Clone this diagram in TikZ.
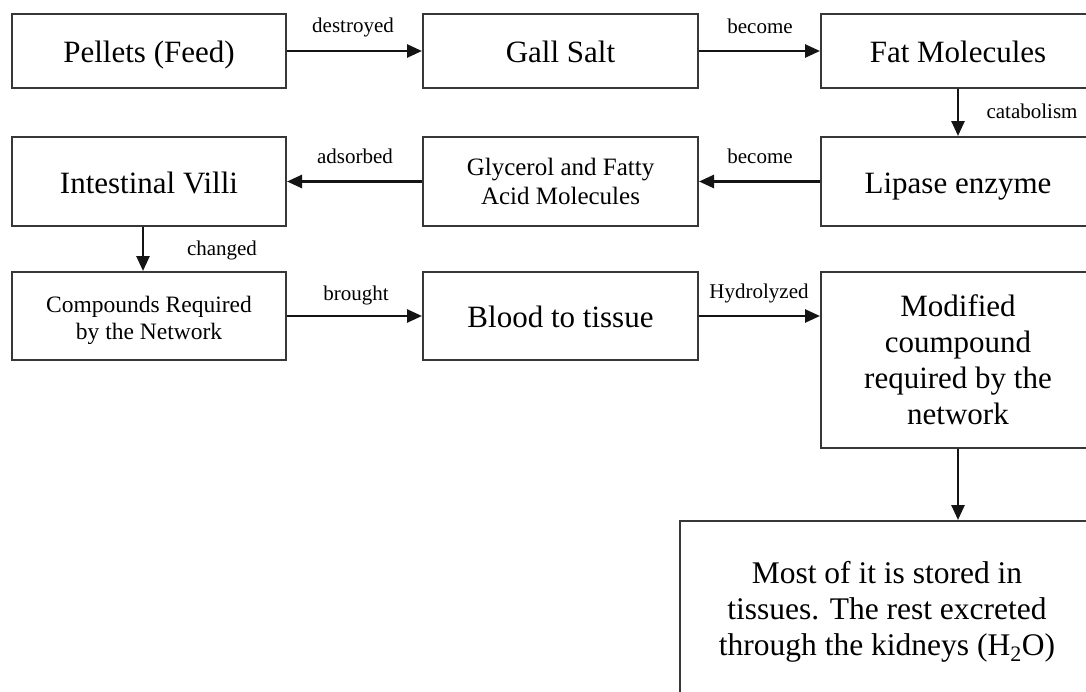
\documentclass[tikz,border=0pt]{standalone}
\usepackage{fontspec}
\setmainfont{Liberation Serif}
\usetikzlibrary{arrows.meta,calc}
\definecolor{boxcol}{RGB}{55,55,55}
\begin{document}
\begin{tikzpicture}[x=1pt,y=-1pt,
  box/.style={draw=boxcol,line width=2pt,inner sep=0pt,align=center,
    font=\fontsize{31}{36}\selectfont},
  oneline/.style={text height=23pt,text depth=0pt},
  smallbox/.style={box,font=\fontsize{25}{29}\selectfont},
  lbl/.style={anchor=base,inner sep=0pt,font=\fontsize{21}{24}\selectfont},
  arr/.style={draw=black!92,line width=2.6pt,-{Triangle[length=15pt,width=13pt]}}]
\useasboundingbox[fill=white] (0,0) rectangle (1086,691);
% row 1
\node[box,oneline,minimum width=274pt,minimum height=74pt] (pellets) at (149,51) {Pellets (Feed)};
\node[box,oneline,minimum width=275pt,minimum height=74pt] (gall) at (560.5,51) {Gall Salt};
\node[box,oneline,minimum width=274pt,minimum height=74pt] (fat) at (958,51) {Fat Molecules};
% row 2
\node[box,oneline,minimum width=274pt,minimum height=89pt] (villi) at (149,181.5) {Intestinal Villi};
\node[smallbox,minimum width=275pt,minimum height=89pt] (glyc) at (560.5,181.5) {Glycerol and Fatty\\Acid Molecules};
\node[box,oneline,minimum width=274pt,minimum height=89pt] (lipase) at (958,181.5) {Lipase enzyme};
% row 3
\node[smallbox,font=\fontsize{23.5}{27}\selectfont,minimum width=274pt,minimum height=88pt] (comp) at (149,316) {\rule{0pt}{26pt}Compounds Required\\by the Network};
\node[box,oneline,minimum width=275pt,minimum height=88pt] (blood) at (560.5,316) {Blood to tissue};
\node[box,minimum width=274pt,minimum height=176pt] (mod) at (958,360) {Modified\\coumpound\\required by the\\network};
% bottom
\node[box,font=\fontsize{31.5}{36}\selectfont,minimum width=414pt,minimum height=182pt] (most) at (887,612)
  {Most of it is stored in\\tissues. The rest excreted\\through the kidneys (H\textsubscript{2}O)};
% connectors
\draw[arr] (pellets.east) -- (gall.west);
\draw[arr] (gall.east) -- (fat.west);
\draw[arr] (fat.south) -- (lipase.north);
\draw[arr] (lipase.west) -- (glyc.east);
\draw[arr] (glyc.west) -- (villi.east);
\draw[arr] ([xshift=-6pt]villi.south) -- ([xshift=-6pt]comp.north);
\draw[arr] (comp.east) -- (blood.west);
\draw[arr] (blood.east) -- (blood.east -| mod.west);
\draw[arr] (mod.south) -- (mod.south |- most.north);
% labels
\node[lbl] (l1) at (353,32) {destroyed};
\node[lbl] (l2) at (760,33) {become};
\node[lbl] (l3) at (1032,118) {catabolism};
\node[lbl] (l4) at (760,163) {become};
\node[lbl] (l5) at (355,163) {adsorbed};
\node[lbl] (l6) at (222,255) {changed};
\node[lbl] (l7) at (356,300) {brought};
\node[lbl] (l8) at (759,298) {Hydrolyzed};
\end{tikzpicture}
\end{document}
